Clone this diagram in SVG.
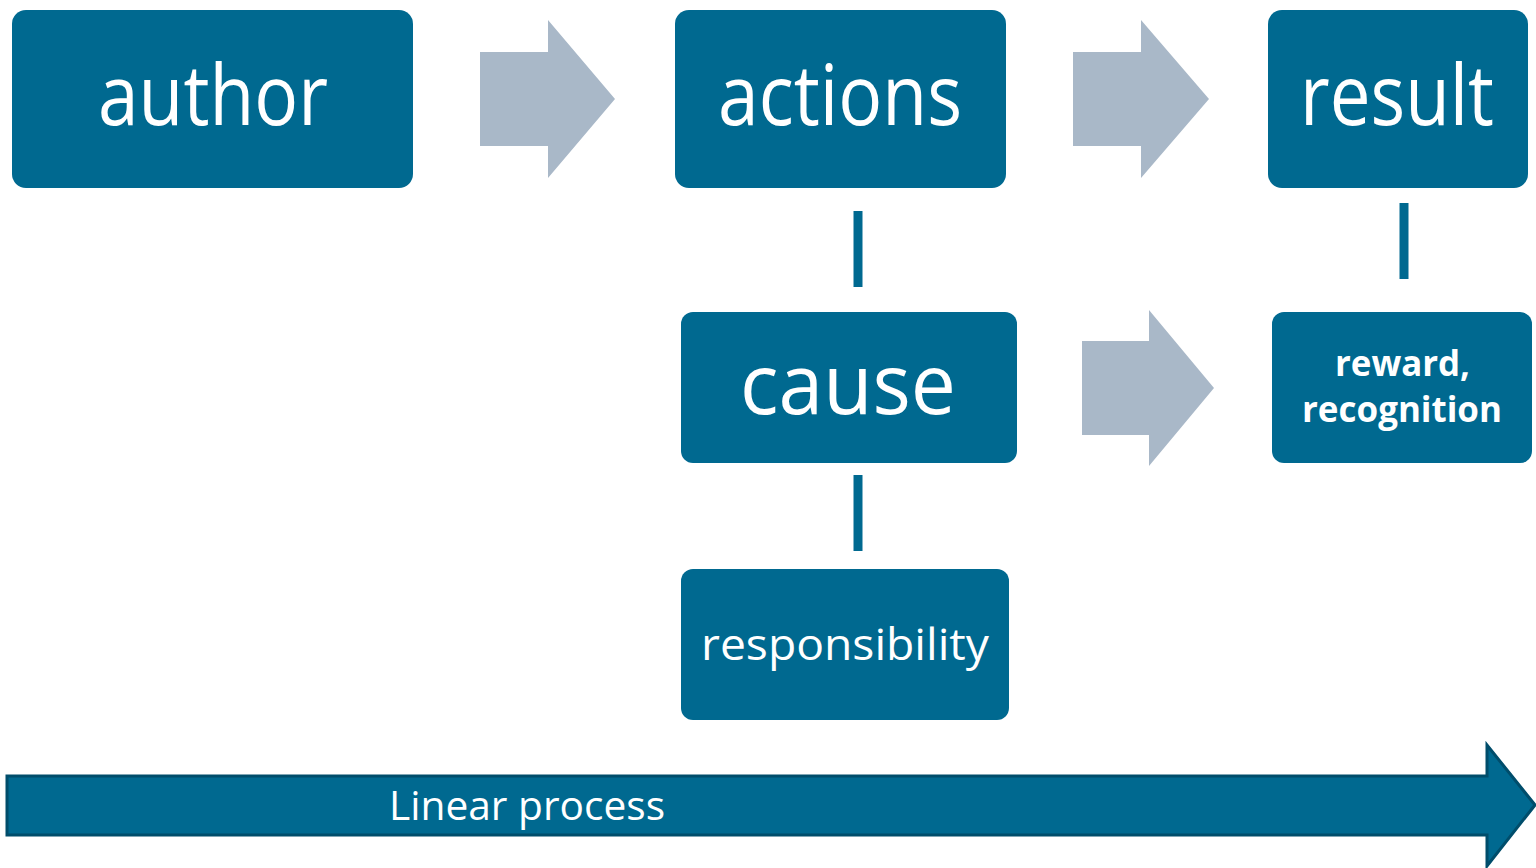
<svg xmlns="http://www.w3.org/2000/svg" width="1536" height="868" viewBox="0 0 1536 868">
<style>
.box{fill:#006990;}
.t{fill:#ffffff;font-family:"Open Sans","Noto Sans",sans-serif;text-anchor:start;}
.g{fill:#A9B8C8;}
.ln{stroke:#006990;stroke-width:9;}
</style>
<rect width="1536" height="868" fill="#ffffff"/>
<g id="connectors">
<polygon class="g" points="480,52 548,52 548,20 615,99 548,178 548,146 480,146"/>
<polygon class="g" points="1073,52 1141,52 1141,20 1209,99 1141,178 1141,146 1073,146"/>
<polygon class="g" points="1082,341 1149,341 1149,310 1214,388 1149,466 1149,435 1082,435"/>
<line class="ln" x1="858" y1="211" x2="858" y2="287"/>
<line class="ln" x1="858" y1="475" x2="858" y2="551"/>
<line class="ln" x1="1404" y1="203" x2="1404" y2="279"/>
</g>
<g id="author"><rect class="box" x="12" y="10" width="401" height="178" rx="14"/><text class="t" x="98" y="125" font-size="84" textLength="230" lengthAdjust="spacingAndGlyphs">author</text></g>
<g id="actions"><rect class="box" x="675" y="10" width="331" height="178" rx="14"/><text class="t" x="718" y="125" font-size="84" textLength="244" lengthAdjust="spacingAndGlyphs">actions</text></g>
<g id="result"><rect class="box" x="1268" y="10" width="260" height="178" rx="14"/><text class="t" x="1300" y="125" font-size="84" textLength="194" lengthAdjust="spacingAndGlyphs">result</text></g>
<g id="cause"><rect class="box" x="681" y="312" width="336" height="151" rx="12"/><text class="t" x="740" y="414" font-size="84" textLength="216" lengthAdjust="spacingAndGlyphs">cause</text></g>
<g id="reward"><rect class="box" x="1272" y="312" width="260" height="151" rx="12"/><text class="t" x="1335" y="376" font-size="35" font-weight="bold" textLength="135" lengthAdjust="spacingAndGlyphs">reward,</text><text class="t" x="1302" y="422" font-size="35" font-weight="bold" textLength="200" lengthAdjust="spacingAndGlyphs">recognition</text></g>
<g id="responsibility"><rect class="box" x="681" y="569" width="328" height="151" rx="12"/><text class="t" x="701" y="660" font-size="44" textLength="288" lengthAdjust="spacingAndGlyphs">responsibility</text></g>
<g id="linear-process"><polygon points="7,776 1487,776 1487,745 1535,805 1487,866 1487,835 7,835" fill="#006990" stroke="#004D6B" stroke-width="3"/><text class="t" x="389" y="820" font-size="40" textLength="276" lengthAdjust="spacingAndGlyphs">Linear process</text></g>
</svg>
